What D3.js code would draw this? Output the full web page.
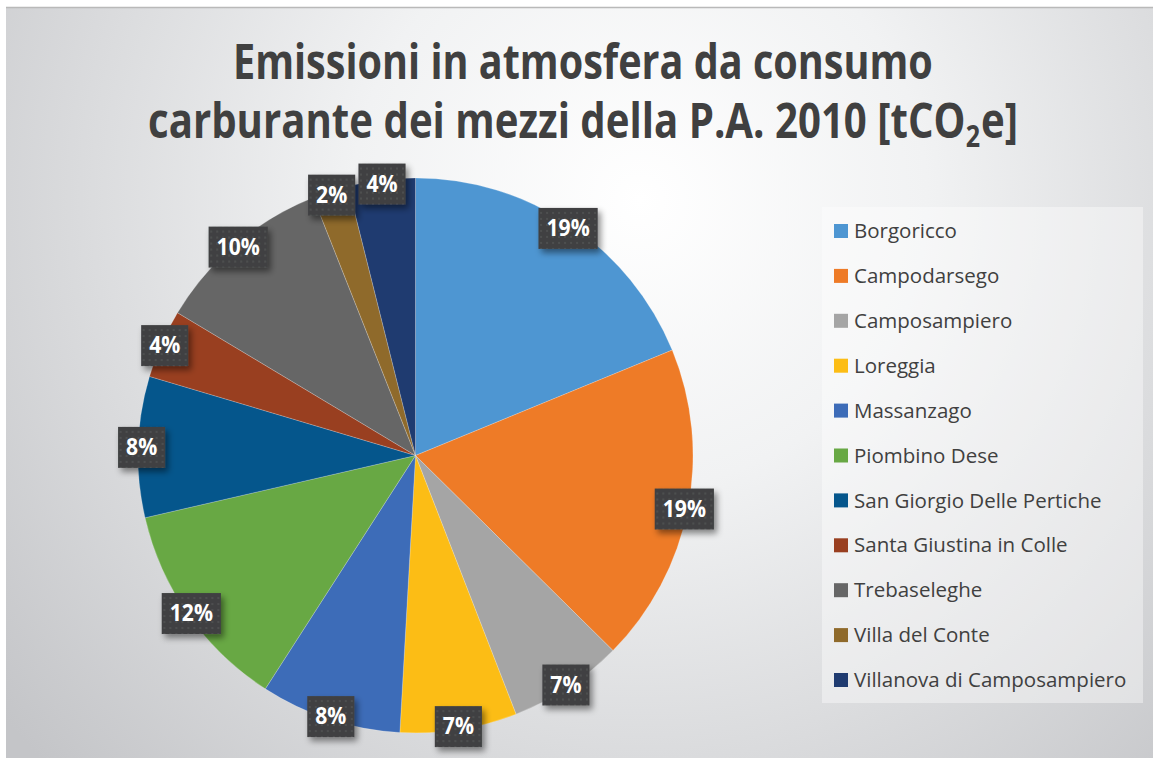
<!DOCTYPE html>
<html>
<head>
<meta charset="utf-8">
<script src="https://cdn.jsdelivr.net/npm/d3@7"></script>
<style>
  html, body { margin: 0; padding: 0; background: #fff; }
  svg { display: block; }
</style>
</head>
<body>
<svg id="chart"></svg>
<script>
// Comuni (categories) and their share of emissions
const comuni = [
  'Borgoricco', 'Campodarsego', 'Camposampiero', 'Loreggia', 'Massanzago',
  'Piombino Dese', 'San Giorgio Delle Pertiche', 'Santa Giustina in Colle',
  'Trebaseleghe', 'Villa del Conte', 'Villanova di Camposampiero'
];
const emissioni = [18.8, 18.6, 6.7, 6.8, 8.2, 12.3, 8.2, 4.0, 10.4, 2.1, 3.9];
const colori = [
  '#4e96d2', '#ee7b27', '#a5a5a5', '#fcbd15', '#3d6cb8',
  '#68a844', '#05568c', '#993f20', '#666666', '#8f6a2b', '#1f3b70'
];
const titolo1 = 'Emissioni in atmosfera da consumo';
const titolo2 = ['carburante dei mezzi della P.A. 2010 [tCO', '2', 'e]'];

const width = 1153, height = 758;
const cfg = {
  frame: {x: 6, y: 7},
  center: {x: 415.5, y: 455.5},
  radius: 277.5,
  labelRadius: 274,
  titleX: 583,
  legend: {x: 822, y: 207, w: 321, h: 496, firstRow: 231, step: 44.9}
};

const svg = d3.select('#chart')
    .attr('width', width)
    .attr('height', height);

const defs = svg.append('defs');

// Background gradient: light in upper middle, greyer towards the corners
const bg = defs.append('radialGradient')
    .attr('id', 'bg-grad')
    .attr('gradientUnits', 'userSpaceOnUse')
    .attr('cx', 640).attr('cy', 200).attr('r', 820);
bg.append('stop').attr('offset', '0%').attr('stop-color', '#ffffff');
bg.append('stop').attr('offset', '35%').attr('stop-color', '#f1f2f3');
bg.append('stop').attr('offset', '100%').attr('stop-color', '#c4c5c8');

// Dotted dark fill for the data labels
const pat = defs.append('pattern')
    .attr('id', 'dots')
    .attr('patternUnits', 'userSpaceOnUse')
    .attr('width', 6).attr('height', 6);
pat.append('rect').attr('width', 6).attr('height', 6).attr('fill', '#404142');
pat.append('circle').attr('cx', 3).attr('cy', 3).attr('r', 0.9).attr('fill', '#545557');

const shadow = defs.append('filter')
    .attr('id', 'shadow')
    .attr('x', '-30%').attr('y', '-30%')
    .attr('width', '170%').attr('height', '170%');
shadow.append('feDropShadow')
    .attr('dx', 3).attr('dy', 4)
    .attr('stdDeviation', 3)
    .attr('flood-color', '#000')
    .attr('flood-opacity', 0.45);

// Chart frame
svg.append('rect')
    .attr('x', cfg.frame.x).attr('y', cfg.frame.y)
    .attr('width', width - cfg.frame.x).attr('height', height - cfg.frame.y)
    .attr('fill', 'url(#bg-grad)');
svg.append('line')
    .attr('x1', cfg.frame.x).attr('x2', width)
    .attr('y1', cfg.frame.y + 0.5).attr('y2', cfg.frame.y + 0.5)
    .attr('stroke', '#b9b9b9').attr('stroke-width', 1.5);

// Title (Calibri-like narrow look: squeeze Open Sans horizontally)
const titleFont = '"Open Sans", sans-serif';
const title = svg.append('g')
    .attr('font-family', titleFont)
    .attr('font-weight', 'bold')
    .attr('fill', '#404040');

function squeezeLine(g, targetWidth) {
  const bb = g.node().getBBox();
  const sx = targetWidth / bb.width;
  g.attr('transform', g.attr('transform') + ` scale(${sx},1) translate(${-bb.width / 2},0)`);
}

const line1 = title.append('g').attr('transform', `translate(${cfg.titleX},79)`);
line1.append('text')
    .attr('font-size', 48)
    .text(titolo1);
squeezeLine(line1, 700);

const line2 = title.append('g').attr('transform', `translate(${cfg.titleX},138)`);
let xOff = 0;
titolo2.forEach((part, i) => {
  const t = line2.append('text')
      .attr('x', xOff)
      .attr('y', i === 1 ? 9 : 0)
      .attr('font-size', i === 1 ? 30 : 48)
      .text(part);
  xOff += t.node().getComputedTextLength() + (i === 1 ? 1 : 0);
});
squeezeLine(line2, 870);

// Pie
const pie = d3.pie().sort(null).value(d => d);
const arcs = pie(emissioni);
const total = d3.sum(emissioni);

const arc = d3.arc().innerRadius(0).outerRadius(cfg.radius);
const labelArc = d3.arc().innerRadius(cfg.labelRadius).outerRadius(cfg.labelRadius);

const chart = svg.append('g')
    .attr('transform', `translate(${cfg.center.x},${cfg.center.y})`);

chart.selectAll('.slice')
    .data(arcs)
  .join('path')
    .attr('class', 'slice')
    .attr('d', arc)
    .attr('fill', (d, i) => colori[i])
    .attr('stroke', 'rgba(255,255,255,0.35)')
    .attr('stroke-width', 0.6);

// Data labels
const fmt = d3.format('.0%');
const labels = chart.selectAll('.label')
    .data(arcs)
  .join('g')
    .attr('class', 'label')
    .attr('transform', d => `translate(${labelArc.centroid(d)})`);

labels.each(function(d) {
  const g = d3.select(this);
  const txt = g.append('text')
      .attr('text-anchor', 'middle')
      .attr('dy', '0.36em')
      .attr('font-family', '"Open Sans", sans-serif')
      .attr('font-weight', 'bold')
      .attr('font-size', 23)
      .attr('fill', '#ffffff')
      .attr('transform', 'scale(0.92,1)')
      .text(fmt(d.value / total));
  const w = txt.node().getComputedTextLength() * 0.92 + 16;
  g.insert('rect', 'text')
      .attr('x', -w / 2).attr('y', -20)
      .attr('width', w).attr('height', 41)
      .attr('fill', 'url(#dots)')
      .attr('filter', 'url(#shadow)');
});

// Legend
const lg = svg.append('g');
lg.append('rect')
    .attr('x', cfg.legend.x).attr('y', cfg.legend.y)
    .attr('width', cfg.legend.w).attr('height', cfg.legend.h)
    .attr('fill', '#ffffff').attr('fill-opacity', 0.4);

const rows = lg.selectAll('.legend-row')
    .data(comuni)
  .join('g')
    .attr('class', 'legend-row')
    .attr('transform', (d, i) => `translate(${cfg.legend.x + 12},${cfg.legend.firstRow + i * cfg.legend.step})`);

rows.append('rect')
    .attr('x', 0).attr('y', -7)
    .attr('width', 14).attr('height', 14)
    .attr('fill', (d, i) => colori[i]);

rows.append('text')
    .attr('x', 20)
    .attr('dy', '0.35em')
    .attr('font-family', '"Open Sans", sans-serif')
    .attr('font-size', 20.5)
    .attr('fill', '#404040')
    .text(d => d);
</script>
</body>
</html>
